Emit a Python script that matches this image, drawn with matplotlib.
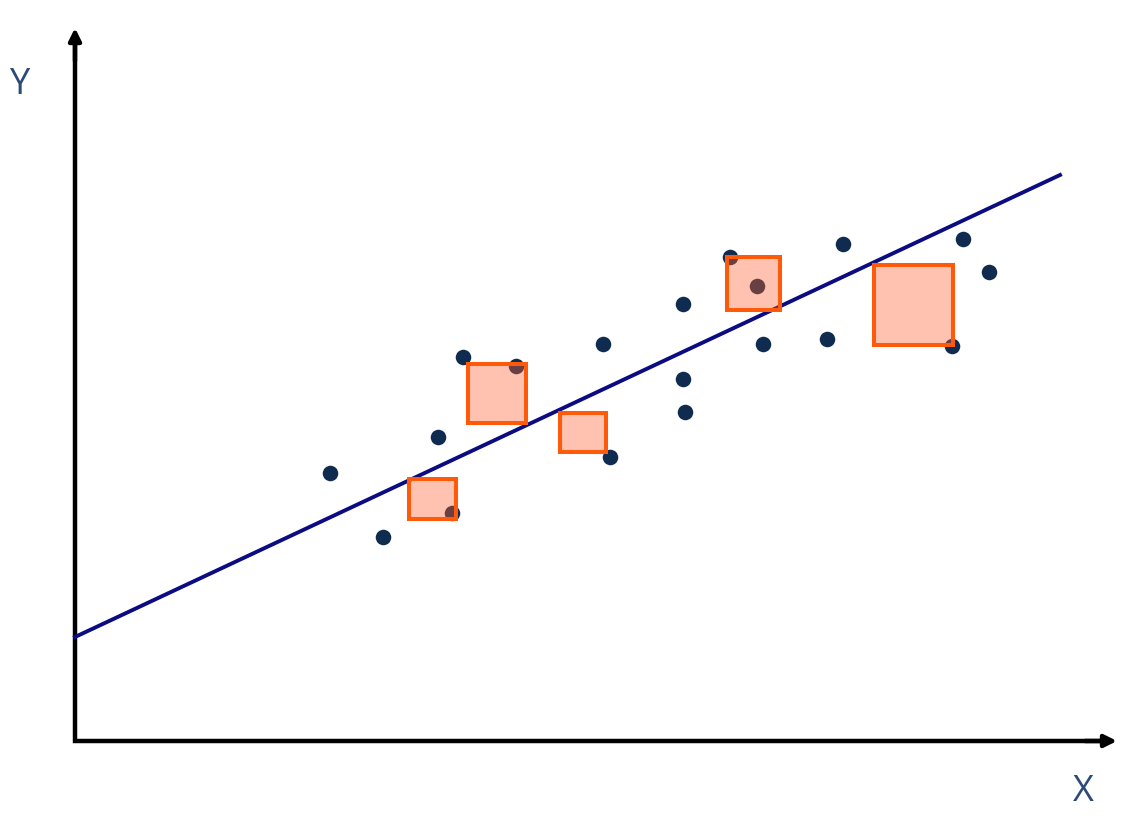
import matplotlib
matplotlib.use("Agg")
import matplotlib.pyplot as plt
from matplotlib.patches import Rectangle

# data points
xs = [2.55, 3.08, 3.63, 3.77, 3.88, 4.41, 5.28, 5.35, 6.08, 6.08, 6.10,
      6.55, 6.82, 6.88, 7.52, 7.68, 8.77, 8.88, 9.14]
ys = [2.68, 2.04, 3.04, 2.28, 3.84, 3.75, 3.97, 2.84, 4.37, 3.62, 3.29,
      4.84, 4.55, 3.97, 4.02, 4.97, 3.95, 5.02, 4.69]

# fitted line
line_x = [0.0, 9.85]
line_y = [1.04, 5.66]

# residual squares: left, bottom, width, height
sq_x = [3.34, 3.93, 4.85, 6.52, 7.99]
sq_y = [2.22, 3.18, 2.89, 4.31, 3.96]
sq_w = [0.47, 0.58, 0.46, 0.53, 0.79]
sq_h = [0.40, 0.59, 0.39, 0.53, 0.80]

fig = plt.figure(figsize=(11.48, 8.26), dpi=100)
ax = fig.add_axes([0, 0, 1, 1])
ax.set_xlim(-0.75, 10.73)
ax.set_ylim(-0.85, 7.41)
ax.axis('off')

# axes as one L-shaped line, arrowheads on the ends
ax.plot([0, 0, 10.3], [7.0, 0, 0], color='black', lw=3.2,
        solid_joinstyle='miter', solid_capstyle='butt')
arrow = dict(arrowstyle='-|>', lw=3.2, color='black', mutation_scale=18,
             shrinkA=0, shrinkB=0)
ax.annotate('', xy=(0, 7.13), xytext=(0, 6.8), arrowprops=arrow)
ax.annotate('', xy=(10.42, 0), xytext=(10.1, 0), arrowprops=arrow)

ax.plot(line_x, line_y, color='#0c0c82', lw=2.8, zorder=3)
ax.scatter(xs, ys, s=125, color='#0f2b50', zorder=4, linewidths=0)

for x, y, w, h in zip(sq_x, sq_y, sq_w, sq_h):
    ax.add_patch(Rectangle((x, y), w, h, facecolor=(1.0, 0.38, 0.19, 0.38),
                           edgecolor='#ff5a0a', lw=2.9, zorder=5))

ax.text(-0.55, 6.56, 'Y', fontsize=26, color='#2c4a78', ha='center',
        va='center', family='Open Sans')
ax.text(10.08, -0.51, 'X', fontsize=26, color='#2c4a78', ha='center',
        va='center', family='Open Sans')

fig.savefig('out.png', dpi=100)
